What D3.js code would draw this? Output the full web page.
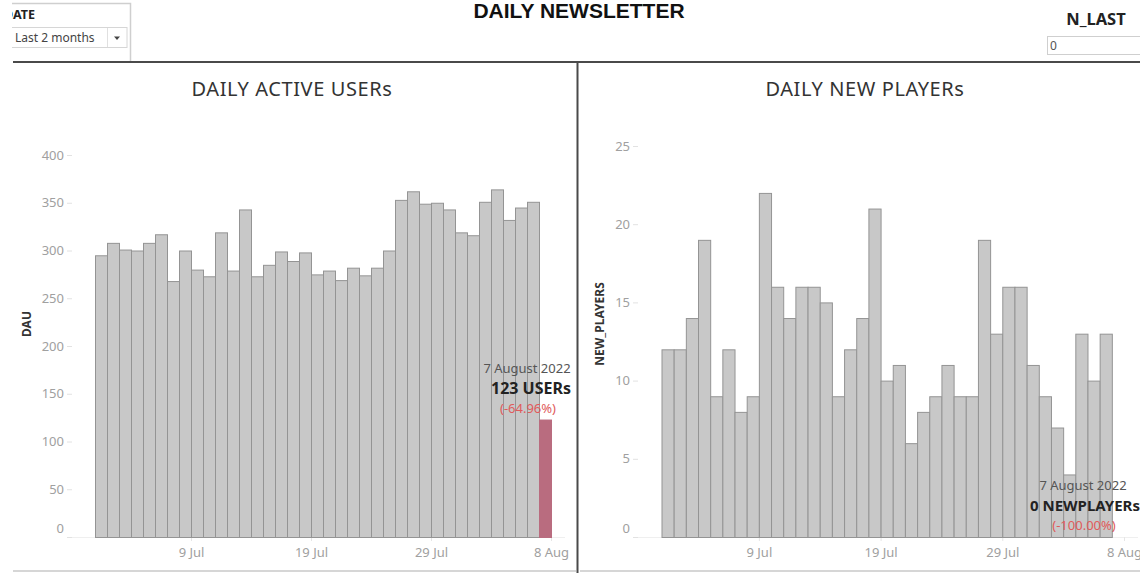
<!DOCTYPE html>
<html>
<head>
<meta charset="utf-8">
<script src="https://cdn.jsdelivr.net/npm/d3@7"></script>
<style>
body { margin: 0; background: #fff; }
svg { display: block; font-family: "Noto Sans", sans-serif; }
</style>
</head>
<body>
<div id="chart"></div>
<script>
// days shown on both charts (1 Jul .. 7 Aug 2022)
var days = ["2022-07-01","2022-07-02","2022-07-03","2022-07-04","2022-07-05","2022-07-06","2022-07-07",
	"2022-07-08","2022-07-09","2022-07-10","2022-07-11","2022-07-12","2022-07-13","2022-07-14",
	"2022-07-15","2022-07-16","2022-07-17","2022-07-18","2022-07-19","2022-07-20","2022-07-21",
	"2022-07-22","2022-07-23","2022-07-24","2022-07-25","2022-07-26","2022-07-27","2022-07-28",
	"2022-07-29","2022-07-30","2022-07-31","2022-08-01","2022-08-02","2022-08-03","2022-08-04",
	"2022-08-05","2022-08-06","2022-08-07"];

var dauValues = [295,308,301,300,308,317,268,300,280,273,319,279,343,273,285,299,289,298,275,
	279,269,282,274,282,300,353,362,349,350,343,319,316,351,364,332,345,351,123];

var newPlayerValues = [12,12,14,19,9,12,8,9,22,16,14,16,16,15,9,12,14,21,10,11,6,8,9,11,9,9,
	19,13,16,16,11,9,7,4,13,10,13,0];

var xTickDates = ["2022-07-09","2022-07-19","2022-07-29","2022-08-08"];
var xDomainEnd = "2022-08-08";
var dauTicks = [0,50,100,150,200,250,300,350,400];
var newPlayerTicks = [0,5,10,15,20,25];

var parse = d3.timeParse("%Y-%m-%d");
var W = 1140, H = 573;

var svg = d3.select("#chart").append("svg")
	.attr("width", W)
	.attr("height", H);

var page = svg.append("g");

// ---- header ----
page.append("text")
	.attr("x", 579).attr("y", 18)
	.attr("text-anchor", "middle")
	.attr("font-family", "'Liberation Sans', Arial, sans-serif")
	.attr("font-weight", "bold")
	.attr("font-size", 21)
	.attr("fill", "#111")
	.text("DAILY NEWSLETTER");

// date filter box
page.append("path")
	.attr("d", "M12,3.5H130.5V62")
	.attr("fill", "none").attr("stroke", "#cfcfcf").attr("stroke-width", 1.5);
page.append("text")
	.attr("x", 4).attr("y", 18.5)
	.attr("font-weight", "bold").attr("font-size", 12.5).attr("fill", "#222")
	.text("DATE");
page.append("rect")
	.attr("x", 4.5).attr("y", 27.5).attr("width", 122.5).attr("height", 20)
	.attr("fill", "#fff").attr("stroke", "#d6d6d6");
page.append("line")
	.attr("x1", 107.5).attr("x2", 107.5).attr("y1", 28).attr("y2", 47)
	.attr("stroke", "#e0e0e0");
page.append("path")
	.attr("d", "M114,36.5h6l-3,3.5z").attr("fill", "#444");
page.append("text")
	.attr("x", 15).attr("y", 42)
	.attr("font-size", 12).attr("fill", "#444")
	.text("Last 2 months");

// the dashboard is cut off at the left edge
page.append("rect").attr("x", 0).attr("y", 0).attr("width", 12).attr("height", 61)
	.attr("fill", "#fff");

// N_LAST parameter
page.append("text")
	.attr("x", 1096).attr("y", 25)
	.attr("text-anchor", "middle")
	.attr("font-weight", "bold").attr("font-size", 16.5).attr("fill", "#222")
	.text("N_LAST");
page.append("rect")
	.attr("x", 1047.5).attr("y", 36.5).attr("width", 100).attr("height", 18)
	.attr("fill", "#fff").attr("stroke", "#cfcfcf");
page.append("text")
	.attr("x", 1050).attr("y", 50)
	.attr("font-size", 12).attr("fill", "#555")
	.text("0");

// dashboard frame lines
svg.append("line")
	.attr("x1", 13).attr("x2", W).attr("y1", 62).attr("y2", 62)
	.attr("stroke", "#4a4a4a").attr("stroke-width", 2);
svg.append("line")
	.attr("x1", 577.5).attr("x2", 577.5).attr("y1", 62).attr("y2", H)
	.attr("stroke", "#4a4a4a").attr("stroke-width", 2);
svg.append("line")
	.attr("x1", 13).attr("x2", 576).attr("y1", 571).attr("y2", 571)
	.attr("stroke", "#c8c8c8").attr("stroke-width", 1.5);
svg.append("line")
	.attr("x1", 580).attr("x2", W).attr("y1", 571).attr("y2", 571)
	.attr("stroke", "#c8c8c8").attr("stroke-width", 1.5);

// draw one bar chart panel
function drawPanel(cfg) {
	var data = days.map(function(d, i) {
		return { date: parse(d), value: cfg.values[i] };
	});

	var x = d3.scaleTime()
		.domain([parse(days[0]), parse(xDomainEnd)])
		.range([cfg.xStart, cfg.xEnd]);
	var y = d3.scaleLinear()
		.domain([0, cfg.yMax])
		.range([537, cfg.yTop]);

	var g = svg.append("g");

	g.append("text")
		.attr("x", cfg.titleX).attr("y", 96)
		.attr("text-anchor", "middle")
		.attr("font-size", 20).attr("letter-spacing", 0.6).attr("fill", "#333")
		.text(cfg.title);

	// faint zero line
	g.append("line")
		.attr("x1", cfg.axisX - 5).attr("x2", cfg.xEnd + 14)
		.attr("y1", y(0) + 0.5).attr("y2", y(0) + 0.5)
		.attr("stroke", "#efefef");

	var yAxis = g.append("g")
		.attr("transform", "translate(" + cfg.axisX + ",0)")
		.call(d3.axisLeft(y).tickValues(cfg.yTicks).tickSize(5).tickPadding(3));
	yAxis.select(".domain").remove();
	yAxis.selectAll(".tick line").attr("stroke", "#e2e2e2");
	yAxis.selectAll(".tick text")
		.attr("font-family", "'Noto Sans', sans-serif")
		.attr("font-size", 13).attr("fill", "#a0a0a0")
		.attr("y", function(d) { return d == 0 ? -9 : 0; });

	var xAxis = g.append("g")
		.attr("transform", "translate(0," + y(0) + ")")
		.call(d3.axisBottom(x)
			.tickValues(xTickDates.map(parse))
			.tickFormat(d3.timeFormat("%-d %b"))
			.tickSize(4).tickPadding(7));
	xAxis.select(".domain").remove();
	xAxis.selectAll(".tick line").attr("stroke", "#e6e6e6");
	xAxis.selectAll(".tick text")
		.attr("font-family", "'Noto Sans', sans-serif")
		.attr("font-size", 13).attr("fill", "#a0a0a0");

	var last = data.length - 1;
	g.selectAll(".bar")
		.data(data)
		.enter().append("rect")
		.attr("class", "bar")
		.attr("x", function(d) { return x(d.date) + 0.5; })
		.attr("y", function(d) { return y(d.value) + 0.5; })
		.attr("width", function(d) { return x(d3.timeDay.offset(d.date, 1)) - x(d.date); })
		.attr("height", function(d) { return Math.max(0, y(0) - y(d.value)); })
		.attr("fill", function(d, i) { return i == last ? "#b96c7f" : "#c8c8c8"; })
		.attr("stroke", function(d, i) { return i == last ? "#b96c7f" : "#949494"; })
		.attr("stroke-width", 1);

	// annotation for the latest day
	var prev = cfg.values[last - 1], cur = cfg.values[last];
	var pct = (cur - prev) / prev * 100;
	var ax = cfg.noteX, ay = cfg.noteY;
	g.append("text")
		.attr("x", ax).attr("y", ay)
		.attr("text-anchor", "middle")
		.attr("font-size", 13).attr("fill", "#555")
		.text(d3.timeFormat("%-d %B %Y")(data[last].date));
	g.append("text")
		.attr("x", cfg.boldX).attr("y", ay + 21)
		.attr("text-anchor", cfg.boldAnchor)
		.attr("font-size", cfg.boldSize).attr("font-weight", "bold").attr("fill", "#222")
		.text(cur + " " + cfg.unit);
	g.append("text")
		.attr("x", ax + 1).attr("y", ay + 40)
		.attr("text-anchor", "middle")
		.attr("font-size", 13).attr("fill", "#e05a5a")
		.text("(" + pct.toFixed(2) + "%)");

	g.append("text")
		.attr("transform", "translate(" + cfg.yLabelX + ",324) rotate(-90)")
		.attr("text-anchor", "middle")
		.attr("font-size", 12).attr("font-weight", "bold").attr("fill", "#333")
		.text(cfg.yLabel);
}

drawPanel({
	title: "DAILY ACTIVE USERs", titleX: 292,
	values: dauValues, yMax: 400, yTicks: dauTicks, yTop: 155,
	xStart: 95, xEnd: 551, axisX: 72,
	yLabel: "DAU", yLabelX: 31,
	unit: "USERs", noteX: 527, noteY: 373, boldX: 531, boldAnchor: "middle", boldSize: 16
});

drawPanel({
	title: "DAILY NEW PLAYERs", titleX: 865,
	values: newPlayerValues, yMax: 25, yTicks: newPlayerTicks, yTop: 146,
	xStart: 661.5, xEnd: 1124, axisX: 638,
	yLabel: "NEW_PLAYERS", yLabelX: 604,
	unit: "NEWPLAYERs", noteX: 1083, noteY: 490, boldX: 1030, boldAnchor: "start", boldSize: 15
});
</script>
</body>
</html>
